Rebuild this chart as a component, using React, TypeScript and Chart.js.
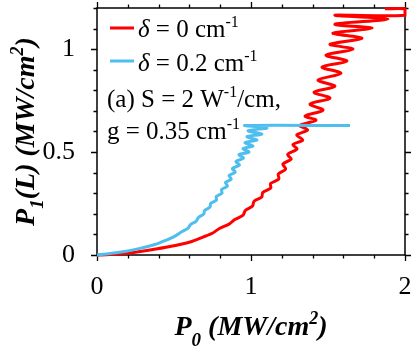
import React, { useEffect, useRef } from 'react';
import { Chart, registerables } from 'chart.js';
Chart.register(...registerables);

// ---- data ----
const redX = [0, 0.084, 0.214, 0.344, 0.474, 0.604, 0.688,
  0.752, 0.795, 0.858, 0.895, 0.949, 0.963, 1.010, 1.019, 1.070, 1.076,
  1.128, 1.127, 1.181, 1.177, 1.225, 1.207, 1.261, 1.238, 1.299, 1.272,
  1.336, 1.297, 1.368, 1.317,
  1.422, 1.351, 1.468, 1.383, 1.513, 1.409, 1.545, 1.435,
  1.584, 1.461, 1.623, 1.487, 1.662, 1.513, 1.721, 1.532, 1.786, 1.545,
  1.890, 1.545, 2.0, 2.0, 1.870];
const redY = [0, 0.002, 0.010, 0.024, 0.041, 0.063, 0.087,
  0.107, 0.129, 0.150, 0.172, 0.194, 0.216, 0.238, 0.260, 0.282, 0.303,
  0.325, 0.347, 0.369, 0.393, 0.417, 0.442, 0.466, 0.488, 0.515, 0.536,
  0.558, 0.583, 0.607, 0.629,
  0.655, 0.675, 0.704, 0.733, 0.762, 0.791, 0.820, 0.850,
  0.883, 0.913, 0.942, 0.971, 1.000, 1.024, 1.053, 1.078, 1.102, 1.121,
  1.146, 1.165, 1.165, 1.196, 1.196];

const blueX = [0, 0.084, 0.182, 0.279, 0.377, 0.442, 0.506, 0.552,
  0.592, 0.607, 0.645, 0.658, 0.693, 0.699, 0.734, 0.738, 0.776, 0.774,
  0.812, 0.808, 0.847, 0.834, 0.872, 0.857, 0.898, 0.879, 0.925, 0.902,
  0.951, 0.922, 0.987, 0.948, 1.013, 0.961, 1.039, 0.974, 1.071, 0.981,
  1.104, 0.961, 1.643];
const blueY = [0, 0.007, 0.017, 0.032, 0.051, 0.070, 0.092, 0.114,
  0.131, 0.148, 0.165, 0.182, 0.199, 0.216, 0.233, 0.250, 0.267, 0.284,
  0.301, 0.318, 0.335, 0.352, 0.369, 0.386, 0.403, 0.420, 0.437, 0.454,
  0.471, 0.488, 0.500, 0.517, 0.529, 0.546, 0.558, 0.575, 0.587, 0.604,
  0.617, 0.629, 0.629];

const xRange = [0, 2];
const yRange = [0, 1.2];
const xMajorStep = 1;
const yMajorStep = 0.5;
const xMinorStep = 0.2;
const yMinorStep = 0.1;

const seriesNames = ['0', '0.2'];
const seriesColors = ['#ff0000', '#4dbeee'];

const SERIF = '"Liberation Serif", "Times New Roman", serif';
const f = (style: string, size: number) => `${style} ${size}px ${SERIF}`;

type Seg = { t: string; font: string; dy: number };

function richWidth(ctx: CanvasRenderingContext2D, segs: Seg[]) {
  let w = 0;
  for (const s of segs) { ctx.font = s.font; w += ctx.measureText(s.t).width; }
  return w;
}
function drawRich(ctx: CanvasRenderingContext2D, segs: Seg[], x: number, y: number) {
  let cx = x;
  for (const s of segs) {
    ctx.font = s.font;
    ctx.fillText(s.t, cx, y + s.dy);
    cx += ctx.measureText(s.t).width;
  }
  return cx;
}

const zeroPad = (s: any) => {
  s.paddingTop = 0; s.paddingBottom = 0; s.paddingLeft = 0; s.paddingRight = 0;
};

const decor = {
  id: 'decor',
  beforeDatasetsDraw(chart: any) {
    const { ctx, chartArea: a, scales } = chart;
    const x = scales.x, y = scales.y;
    ctx.save();
    ctx.strokeStyle = '#000';
    ctx.lineWidth = 1.5;
    ctx.strokeRect(a.left, a.top, a.right - a.left, a.bottom - a.top);
    ctx.lineWidth = 1.3;
    ctx.beginPath();
    const nx = Math.round((xRange[1] - xRange[0]) / xMinorStep);
    for (let i = 0; i <= nx; i++) {
      const v = xRange[0] + i * xMinorStep;
      const major = Math.abs(v / xMajorStep - Math.round(v / xMajorStep)) < 1e-6;
      const L = major ? 6 : 3.5;
      const px = Math.round(x.getPixelForValue(v)) + 0.5;
      ctx.moveTo(px, a.bottom); ctx.lineTo(px, a.bottom + L);
      ctx.moveTo(px, a.top); ctx.lineTo(px, a.top - L);
    }
    const ny = Math.round((yRange[1] - yRange[0]) / yMinorStep);
    for (let i = 0; i <= ny; i++) {
      const v = yRange[0] + i * yMinorStep;
      const major = Math.abs(v / yMajorStep - Math.round(v / yMajorStep)) < 1e-6;
      const L = major ? 6 : 3.5;
      const py = Math.round(y.getPixelForValue(v)) + 0.5;
      ctx.moveTo(a.left, py); ctx.lineTo(a.left - L, py);
      ctx.moveTo(a.right, py); ctx.lineTo(a.right + L, py);
    }
    ctx.stroke();
    ctx.restore();
  },
  afterDraw(chart: any) {
    const { ctx, chartArea: a } = chart;
    ctx.save();
    ctx.fillStyle = '#000';
    ctx.textBaseline = 'alphabetic';
    ctx.textAlign = 'left';
    // x title
    const bi = 'italic bold';
    const xt: Seg[] = [
      { t: 'P', font: f(bi, 28), dy: 0 },
      { t: '0', font: f(bi, 19), dy: 11 },
      { t: ' (MW/cm', font: f(bi, 28), dy: 0 },
      { t: '2', font: f(bi, 18), dy: -11 },
      { t: ')', font: f(bi, 28), dy: 0 },
    ];
    const cxm = (a.left + a.right) / 2;
    drawRich(ctx, xt, cxm - richWidth(ctx, xt) / 2, 335);
    // y title
    const yt: Seg[] = [
      { t: 'P', font: f(bi, 28), dy: 0 },
      { t: '1', font: f(bi, 19), dy: 9 },
      { t: '(L) (MW/cm', font: f(bi, 28), dy: 0 },
      { t: '2', font: f(bi, 18), dy: -11 },
      { t: ')', font: f(bi, 28), dy: 0 },
    ];
    ctx.save();
    ctx.translate(34, (a.top + a.bottom) / 2);
    ctx.rotate(-Math.PI / 2);
    drawRich(ctx, yt, -richWidth(ctx, yt) / 2, 0);
    ctx.restore();
    // legend
    const legY = [28, 61];
    const txtY = [37, 71];
    for (let i = 0; i < 2; i++) {
      ctx.strokeStyle = seriesColors[i];
      ctx.lineWidth = 3;
      ctx.beginPath();
      ctx.moveTo(110, legY[i]); ctx.lineTo(134, legY[i]);
      ctx.stroke();
      drawRich(ctx, [
        { t: 'δ', font: f('italic', 25), dy: 0 },
        { t: ' = ' + seriesNames[i] + ' cm', font: f('', 25), dy: 0 },
        { t: '-1', font: f('', 16), dy: -10 },
      ], 138, txtY[i]);
    }
    drawRich(ctx, [
      { t: '(a) S = 2 W', font: f('', 25), dy: 0 },
      { t: '-1', font: f('', 16), dy: -10 },
      { t: '/cm,', font: f('', 25), dy: 0 },
    ], 107, 107);
    drawRich(ctx, [
      { t: 'g = 0.35 cm', font: f('', 25), dy: 0 },
      { t: '-1', font: f('', 16), dy: -10 },
    ], 107, 139);
    ctx.restore();
  },
};

export default function App() {
  const ref = useRef<HTMLCanvasElement>(null);
  useEffect(() => {
    if (!ref.current) return;
    const mk = (xs: number[], ys: number[]) => xs.map((v, i) => ({ x: v, y: ys[i] }));
    const chart = new Chart(ref.current, {
      type: 'scatter',
      data: {
        datasets: [
          {
            data: mk(blueX, blueY), showLine: true, borderColor: seriesColors[1],
            borderWidth: 3, pointRadius: 0, tension: 0.3, clip: 3,
          } as any,
          {
            data: mk(redX, redY), showLine: true, borderColor: seriesColors[0],
            borderWidth: 3, pointRadius: 0, tension: 0.3, clip: 3,
          } as any,
        ],
      },
      options: {
        responsive: false,
        animation: false,
        layout: { padding: { top: 8, right: 10, left: 0, bottom: 0 } },
        plugins: { legend: { display: false }, tooltip: { enabled: false } },
        scales: {
          x: {
            type: 'linear', min: xRange[0], max: xRange[1],
            grid: { display: false }, border: { display: false },
            ticks: { stepSize: xMajorStep, color: '#000', font: { family: SERIF, size: 26 }, padding: 9, maxRotation: 0 },
            afterFit: (s: any) => { s.height = 97; zeroPad(s); },
          },
          y: {
            type: 'linear', min: yRange[0], max: yRange[1],
            grid: { display: false }, border: { display: false },
            ticks: { stepSize: yMajorStep, color: '#000', font: { family: SERIF, size: 26 }, padding: 14,
              callback: (v: any) => (Math.abs(v / yMajorStep - Math.round(v / yMajorStep)) < 1e-6 ? String(v) : '') },
            afterFit: (s: any) => { s.width = 97; zeroPad(s); },
          },
        },
      },
      plugins: [decor],
    });
    return () => chart.destroy();
  }, []);
  return (
    <div style={{ position: 'absolute', left: 0, top: 0, width: 415, height: 352, background: '#fff' }}>
      <canvas ref={ref} width={415} height={352} style={{ display: 'block' }} />
    </div>
  );
}
